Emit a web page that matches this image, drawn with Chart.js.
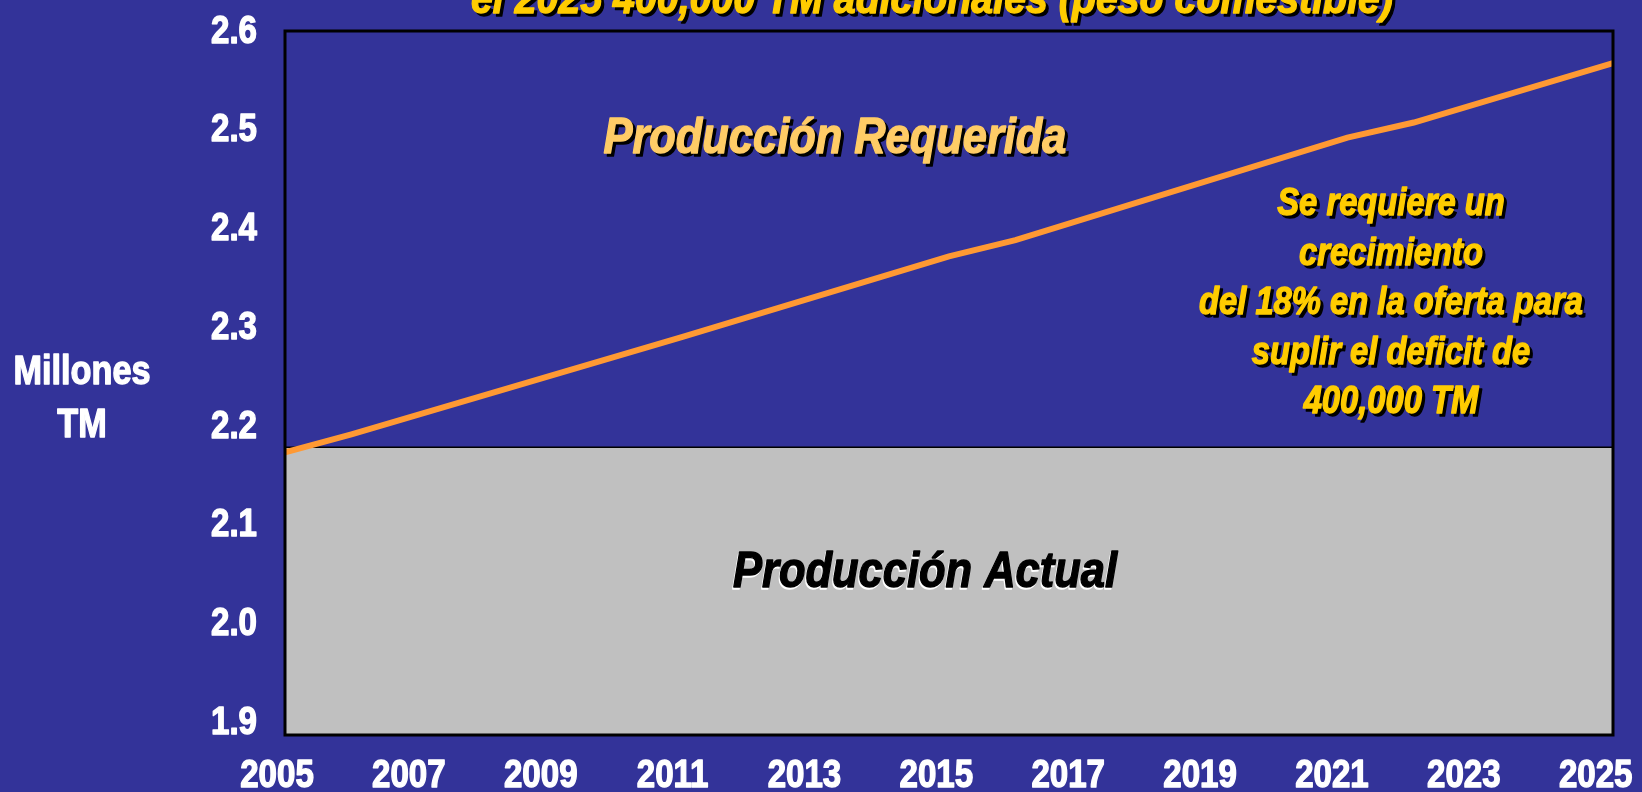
<!DOCTYPE html>
<html>
<head>
<meta charset="utf-8">
<script src="https://cdn.jsdelivr.net/npm/chart.js@4.4.1/dist/chart.umd.min.js"></script>
<style>
html,body{margin:0;padding:0;background:#333399;overflow:hidden}
canvas{display:block}
</style>
</head>
<body>
<canvas id="chart" width="1642" height="792"></canvas>
<script>
// data (millones TM)
const reqYears = [2005, 2006, 2011, 2015, 2016, 2021, 2022, 2025]
const required = [2.181, 2.199, 2.296, 2.376, 2.392, 2.494, 2.509, 2.568]
const actYears = [2005, 2025]
const actual = [2.186, 2.186]
const yTicks = [1.9, 2.0, 2.1, 2.2, 2.3, 2.4, 2.5, 2.6]
const xTicks = [2005, 2007, 2009, 2011, 2013, 2015, 2017, 2019, 2021, 2023, 2025]

const titleText = "el 2025 400,000 TM adicionales (peso comestible)"
const axisLines = ["Millones", "TM"]
const noteLines = ["Se requiere un", "crecimiento", "del 18% en la oferta para", "suplir el deficit de", "400,000 TM"]

const family = '"Liberation Sans", Arial, sans-serif'

function textW(ctx, text, font){
ctx.font = font
return ctx.measureText(text).width
}

// text squeezed horizontally (the slide uses a narrow Arial look)
function label(ctx, text, x, y, font, sx, color, shadow, dx, dy, align){
ctx.save()
ctx.font = font
ctx.textAlign = align || "center"
ctx.textBaseline = "alphabetic"
ctx.lineJoin = "round"
ctx.lineWidth = 1.4
ctx.translate(x, y)
ctx.scale(sx, 1)
if(shadow){
ctx.fillStyle = shadow
ctx.strokeStyle = shadow
ctx.fillText(text, dx / sx, dy)
ctx.strokeText(text, dx / sx, dy)
}
ctx.fillStyle = color
ctx.strokeStyle = color
ctx.fillText(text, 0, 0)
ctx.strokeText(text, 0, 0)
ctx.restore()
}

const decor = {
id: "decor",
beforeDraw(chart){
const ctx = chart.ctx
ctx.save()
ctx.fillStyle = "#333399"
ctx.fillRect(0, 0, chart.width, chart.height)
ctx.restore()
},
afterDatasetsDraw(chart){
const ctx = chart.ctx
const a = chart.chartArea
const xs = chart.scales.x
const ys = chart.scales.y

ctx.save()
ctx.strokeStyle = "#000"
ctx.lineWidth = 3
ctx.strokeRect(a.left, a.top, a.right - a.left, a.bottom - a.top)
ctx.restore()

// tick labels, placed from the chart scales (slide labels sit a bit inside the box span)
const tf = "bold 38px " + family
xTicks.forEach(v => {
const px = 277 + (xs.getPixelForValue(v) - a.left) * 0.993
label(ctx, String(v), px, 787, tf, 0.87, "#fff")
})
yTicks.forEach(v => {
const py = 29 + (ys.getPixelForValue(v) - a.top) * 0.982
label(ctx, v.toFixed(1), 257, py + 13.5, tf, 0.87, "#fff", null, 0, 0, "right")
})

const it = "italic bold "

// title (cut at top of the slide)
let f = it + "44px " + family
label(ctx, titleText, 932, 13, f, 922 / textW(ctx, titleText, f), "#FFCC00", "#000", 3, 3)

f = it + "50px " + family
label(ctx, "Producción Requerida", 835, 153, f, 463 / textW(ctx, "Producción Requerida", f), "#FFCC66", "#000", 3, 3)
label(ctx, "Producción Actual", 925, 587, f, 384 / textW(ctx, "Producción Actual", f), "#000", "#fff", -1, 2)

f = it + "38px " + family
const s = 384 / textW(ctx, noteLines[2], f)
noteLines.forEach((t, i) => {
label(ctx, t, 1391, 215 + i * 49.5, f, s, "#FFCC00", "#000", 3, 3)
})

f = "bold 41px " + family
const s2 = 137 / textW(ctx, axisLines[0], f)
label(ctx, axisLines[0], 82, 384, f, s2, "#fff", null)
label(ctx, axisLines[1], 82, 437, f, s2, "#fff", null)
}
}

const ctx = document.getElementById("chart").getContext("2d")

new Chart(ctx, {
type: "line",
data: {
datasets: [{
label: "Producción Requerida",
data: reqYears.map((x, i) => ({x: x, y: required[i]})),
borderColor: "#FF9933",
borderWidth: 6,
pointRadius: 0,
tension: 0,
fill: false,
order: 0
}, {
label: "Producción Actual",
data: actYears.map((x, i) => ({x: x, y: actual[i]})),
borderColor: "#000",
borderWidth: 1.5,
backgroundColor: "#C0C0C0",
pointRadius: 0,
fill: "start",
order: 1
}]
},
options: {
responsive: false,
animation: false,
layout: {padding: {left: 0, top: 31, right: 29, bottom: 0}},
plugins: {legend: {display: false}, tooltip: {enabled: false}},
scales: {
x: {
type: "linear",
min: 2005,
max: 2025,
afterBuildTicks: sc => { sc.ticks = xTicks.map(v => ({value: v})) },
afterFit: sc => { sc.height = 57; sc.paddingLeft = 0; sc.paddingRight = 0 },
grid: {display: false, drawTicks: false},
border: {display: false},
ticks: {display: false}
},
y: {
min: 1.9,
max: 2.6,
afterBuildTicks: sc => { sc.ticks = yTicks.map(v => ({value: v})) },
afterFit: sc => { sc.width = 285; sc.paddingTop = 0; sc.paddingBottom = 0 },
grid: {display: false, drawTicks: false},
border: {display: false},
ticks: {display: false}
}
}
},
plugins: [decor]
})
</script>
</body>
</html>
